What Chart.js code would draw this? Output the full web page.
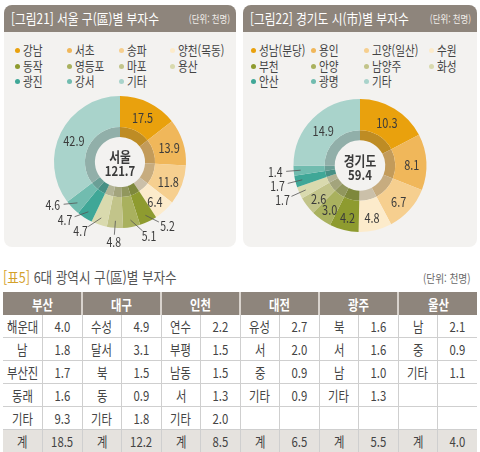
<!DOCTYPE html>
<html lang="ko">
<head>
<meta charset="utf-8">
<script src="https://cdn.jsdelivr.net/npm/chart.js@4.4.1/dist/chart.umd.min.js"></script>
<style>
  body { margin: 0; width: 480px; height: 452px; background: #fff; position: relative; overflow: hidden;
         font-family: "Noto Sans CJK KR", "Noto Sans", sans-serif; color: #444; }
  .cond { display: inline-block; transform: scaleX(0.84); white-space: nowrap; }
  .panel { position: absolute; top: 5px; height: 242px; background: #F3F2F0; border-radius: 8px; overflow: hidden; }
  #seoul-panel { left: 4px; width: 232px; }
  #gg-panel { left: 243px; width: 234px; }
  .panel-head { position: absolute; left: 0; top: 0; right: 0; height: 27px; background: #8E857C; color: #fff; }
  .panel-title { position: absolute; left: 7px; top: 0; line-height: 27px; font-size: 14px; transform-origin: left center; }
  .panel-unit { position: absolute; right: 6px; top: 0; line-height: 28px; font-size: 10px; color: #F2EEEA; transform-origin: right center; }
  .legend { position: absolute; left: 0; top: 37px; display: grid; row-gap: 0; }
  #seoul-legend { padding-left: 11px; grid-template-columns: 52px 52px 51px auto; }
  #gg-legend { padding-left: 8px; grid-template-columns: 60px 53px 65px auto; }
  .legend-item { height: 15.5px; line-height: 15.5px; font-size: 13px; color: #444; white-space: nowrap; }
  .legend-item i { display: inline-block; width: 5px; height: 5px; border-radius: 50%; margin-right: 3px; vertical-align: 2px; }
  .legend-item span { display: inline-block; transform: scaleX(0.82); transform-origin: left center; }
  .chart-box { position: absolute; left: 0; top: 81px; width: 100%; height: 161px; }
  .table-title { position: absolute; left: 3px; top: 267px; font-size: 15px; color: #555; line-height: 20px; }
  .table-title .cond { transform-origin: left center; }
  .table-title b { color: #D4A12A; font-weight: normal; }
  .table-unit { position: absolute; right: 9px; top: 268px; font-size: 11.5px; color: #666; line-height: 20px; }
  .table-unit .cond { transform-origin: right center; }
  table { position: absolute; left: 3px; top: 292px; width: 474px; border-collapse: collapse; table-layout: fixed; }
  th { height: 23px; padding: 0; background: #8E857C; color: #fff; font-size: 13.5px; font-weight: bold;
       border-left: 2px solid #D9D3CD; }
  th:first-child { border-left: none; }
  td { height: 22px; padding: 0; text-align: center; font-size: 13.5px; color: #444;
       border-left: 1px solid #CFCFCF; border-bottom: 1px solid #CFCFCF; }
  td:first-child { border-left: none; }
  tr.total td { background: #E5E2DE; border-top: 1px solid #BDBDBD; border-bottom: 2px solid #9C9C9C; }
</style>
</head>
<body>

<div class="panel" id="seoul-panel">
  <div class="panel-head">
    <div class="panel-title"><span class="cond" style="transform-origin:left center">[그림21] 서울 구(區)별 부자수</span></div>
    <div class="panel-unit"><span class="cond" style="transform-origin:right center">(단위: 천명)</span></div>
  </div>
  <div class="legend" id="seoul-legend"></div>
  <div class="chart-box"><canvas id="seoul-chart"></canvas></div>
</div>

<div class="panel" id="gg-panel">
  <div class="panel-head">
    <div class="panel-title"><span class="cond" style="transform-origin:left center">[그림22] 경기도 시(市)별 부자수</span></div>
    <div class="panel-unit"><span class="cond" style="transform-origin:right center">(단위: 천명)</span></div>
  </div>
  <div class="legend" id="gg-legend"></div>
  <div class="chart-box"><canvas id="gg-chart"></canvas></div>
</div>

<div class="table-title"><span class="cond"><b>[표5]</b> 6대 광역시 구(區)별 부자수</span></div>
<div class="table-unit"><span class="cond">(단위: 천명)</span></div>
<table id="metro-table"></table>

<script>
// Seoul, by district (thousand people)
const seoulDistricts = ['강남', '서초', '송파', '양천(목동)', '동작', '영등포', '마포', '용산', '광진', '강서', '기타'];
const seoulValues = [17.5, 13.9, 11.8, 6.4, 5.2, 5.1, 4.8, 4.7, 4.7, 4.6, 42.9];
const seoulTotal = 121.7;

// Gyeonggi, by city
const gyeonggiCities = ['성남(분당)', '용인', '고양(일산)', '수원', '부천', '안양', '남양주', '화성', '안산', '광명', '기타'];
const gyeonggiValues = [10.3, 8.1, 6.7, 4.8, 4.2, 3.0, 2.6, 1.7, 1.7, 1.4, 14.9];
const gyeonggiTotal = 59.4;

// Six metropolitan cities table
const metroCities = ['부산', '대구', '인천', '대전', '광주', '울산'];
const metroDistricts = [
    ['해운대', '남', '부산진', '동래', '기타'],
    ['수성', '달서', '북', '동', '기타'],
    ['연수', '부평', '남동', '서', '기타'],
    ['유성', '서', '중', '기타'],
    ['북', '서', '남', '기타'],
    ['남', '중', '기타']
];
const metroValues = [
    [4.0, 1.8, 1.7, 1.6, 9.3],
    [4.9, 3.1, 1.5, 0.9, 1.8],
    [2.2, 1.5, 1.5, 1.3, 2.0],
    [2.7, 2.0, 0.9, 0.9],
    [1.6, 1.6, 1.0, 1.3],
    [2.1, 0.9, 1.1]
];
const metroTotals = [18.5, 12.2, 8.5, 6.5, 5.5, 4.0];

const sliceColors = ['#E9A10D', '#F0B75A', '#F6CF8F', '#FCEBCB', '#8E9B2F', '#A9B15E',
                     '#C2C48A', '#D9DAAE', '#3FA797', '#71BCAF', '#A9D3CB'];

// darker tone for the thin inner ring
const shade = (hex, amt = 0.3, base = 90) => {
    const n = parseInt(hex.slice(1), 16);
    const mix = c => Math.round(c * (1 - amt) + base * amt);
    return `rgb(${mix(n >> 16)}, ${mix((n >> 8) & 255)}, ${mix(n & 255)})`;
};

const drawCondensed = (ctx, text, x, y, font, color) => {
    ctx.save();
    ctx.font = font;
    ctx.fillStyle = color;
    ctx.textAlign = 'center';
    ctx.textBaseline = 'middle';
    ctx.translate(x, y);
    ctx.scale(0.84, 1);
    ctx.fillText(text, 0, 0);
    ctx.restore();
};

// value labels on/around the slices + total in the hole
const sliceLabels = {
    id: 'sliceLabels',
    afterDatasetsDraw(chart, args, opts) {
        const ctx = chart.ctx;
        const values = chart.data.datasets[0].data;
        const deg = Math.PI / 180;
        chart.getDatasetMeta(0).data.forEach((arc, i) => {
            const { x, y, startAngle, endAngle, outerRadius, innerRadius } =
                arc.getProps(['x', 'y', 'startAngle', 'endAngle', 'outerRadius', 'innerRadius'], true);
            const mid = (startAngle + endAngle) / 2;
            const text = values[i].toFixed(1);
            if (values[i] >= opts.outsideBelow) {
                const r = (outerRadius + innerRadius) / 2 + 1;
                drawCondensed(ctx, text, x + Math.cos(mid) * r, y + Math.sin(mid) * r + 2, '13px "Noto Sans CJK KR"', '#3b3b3b');
                return;
            }
            // outside label with a leader line
            const d = mid - Math.PI / 2;
            let la = mid;
            if (Math.abs(d) > 8 * deg) la += Math.sign(d) * opts.spread * deg;
            const lx = x + Math.cos(la) * opts.labelRadius;
            const ly = y + Math.sin(la) * opts.labelRadius;
            const p1x = x + Math.cos(mid) * (outerRadius - 7);
            const p1y = y + Math.sin(mid) * (outerRadius - 7);
            const len = Math.hypot(p1x - lx, p1y - ly);
            const ux = (p1x - lx) / len, uy = (p1y - ly) / len;
            const gap = 1 / Math.sqrt((ux / 11) ** 2 + (uy / 7) ** 2);
            ctx.save();
            ctx.strokeStyle = '#555';
            ctx.lineWidth = 0.8;
            ctx.beginPath();
            ctx.moveTo(p1x, p1y);
            ctx.lineTo(lx + ux * gap, ly + uy * gap);
            ctx.stroke();
            ctx.restore();
            drawCondensed(ctx, text, lx, ly, '12.5px "Noto Sans CJK KR"', '#3b3b3b');
        });
        const c = chart.getDatasetMeta(0).data[0];
        drawCondensed(ctx, opts.centerName, c.x, c.y - 5, 'bold 14px "Noto Sans CJK KR"', '#3a3a3a');
        drawCondensed(ctx, opts.centerTotal.toFixed(1), c.x, c.y + 9, 'bold 13.5px "Noto Sans CJK KR"', '#3a3a3a');
    }
};

const createDonut = (canvasId, labels, values, total, name, padding, labelOpts) => {
    return new Chart(document.getElementById(canvasId), {
        type: 'doughnut',
        data: {
            labels,
            datasets: [
                { data: values, backgroundColor: sliceColors, borderWidth: 0, weight: 31 },
                { data: values, backgroundColor: sliceColors.map(c => shade(c)), borderWidth: 0, weight: 10 }
            ]
        },
        options: {
            responsive: true,
            maintainAspectRatio: false,
            animation: false,
            cutout: '38%',
            layout: { padding },
            plugins: {
                legend: { display: false },
                tooltip: { enabled: false },
                sliceLabels: { centerName: name, centerTotal: total, ...labelOpts }
            }
        },
        plugins: [sliceLabels]
    });
};

const buildLegend = (id, labels) => {
    document.getElementById(id).innerHTML = labels
        .map((l, i) => `<div class="legend-item"><i style="background:${sliceColors[i]}"></i><span>${l}</span></div>`)
        .join('');
};

const buildTable = () => {
    const rows = Math.max(...metroDistricts.map(d => d.length));
    let html = '<colgroup>' + '<col style="width:39.5px">'.repeat(12) + '</colgroup>';
    html += '<tr>' + metroCities.map(c => `<th colspan="2"><span class="cond">${c}</span></th>`).join('') + '</tr>';
    for (let r = 0; r < rows; r++) {
        html += '<tr>' + metroCities.map((c, i) => {
            const name = metroDistricts[i][r];
            if (name === undefined) return '<td></td><td></td>';
            return `<td><span class="cond">${name}</span></td><td><span class="cond">${metroValues[i][r].toFixed(1)}</span></td>`;
        }).join('') + '</tr>';
    }
    html += '<tr class="total">' + metroTotals
        .map(t => `<td><span class="cond">계</span></td><td><span class="cond">${t.toFixed(1)}</span></td>`).join('') + '</tr>';
    document.getElementById('metro-table').innerHTML = html;
};

buildLegend('seoul-legend', seoulDistricts);
buildLegend('gg-legend', gyeonggiCities);
buildTable();

// panel body starts at y=86 on the page; padding puts the centre/radius where the picture has them
createDonut('seoul-chart', seoulDistricts, seoulValues, seoulTotal, '서울',
    { top: 10, bottom: 19, left: 0, right: 0 }, { outsideBelow: 6, spread: 11, labelRadius: 80 });
createDonut('gg-chart', gyeonggiCities, gyeonggiValues, gyeonggiTotal, '경기도',
    { top: 13, bottom: 15, left: 0, right: 0 }, { outsideBelow: 2, spread: 0, labelRadius: 85 });
</script>
</body>
</html>
